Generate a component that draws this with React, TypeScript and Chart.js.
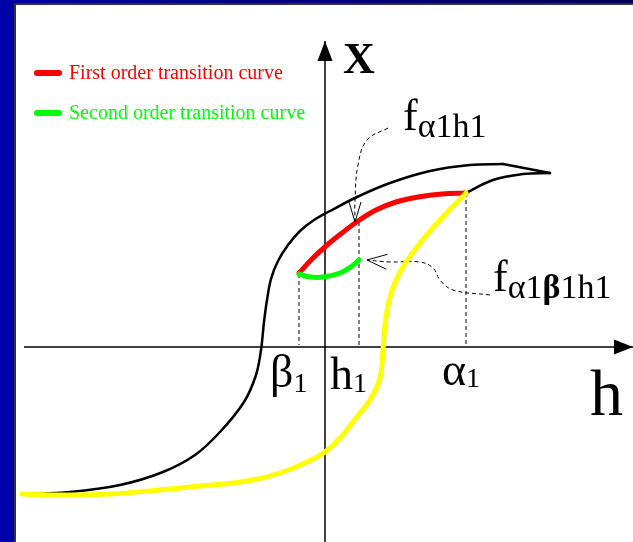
import { useEffect, useRef } from "react";
import { Chart, registerables } from "chart.js";

Chart.register(...registerables);

type Pt = [number, number]; // [h, x]

// Hysteresis loop: ascending (upper) branch, its tip and the returning arc
const upperBranch: Pt[] = [
  [-3.03, -1.47], [-2.55, -1.45], [-2.05, -1.38], [-1.62, -1.25], [-1.3, -1.08],
  [-1.05, -0.85], [-0.81, -0.55], [-0.69, -0.28], [-0.64, -0.03], [-0.61, 0.25],
  [-0.58, 0.47], [-0.54, 0.68], [-0.47, 0.86], [-0.37, 1.02], [-0.25, 1.16],
  [-0.11, 1.27], [0.05, 1.36], [0.32, 1.5], [0.65, 1.64], [1.05, 1.76],
  [1.45, 1.82], [1.78, 1.83],
];
const loopTip: Pt[] = [[1.78, 1.83], [2.25, 1.74]];
const returnArc: Pt[] = [[2.25, 1.74], [1.98, 1.73], [1.68, 1.67], [1.41, 1.54]];

// Descending curve from alpha1 back to negative saturation
const descending: Pt[] = [
  [1.41, 1.54], [1.15, 1.27], [0.92, 1.0], [0.75, 0.75], [0.65, 0.5],
  [0.6, 0.22], [0.58, -0.03], [0.55, -0.31], [0.45, -0.53], [0.31, -0.71],
  [0.16, -0.9], [0, -1.05], [-0.2, -1.16], [-0.42, -1.25], [-0.67, -1.32],
  [-0.92, -1.36], [-1.25, -1.39], [-1.65, -1.43], [-2.15, -1.47], [-2.6, -1.48],
  [-3.03, -1.47],
];

// First order transition curve (beta1 -> alpha1)
const firstOrder: Pt[] = [
  [-0.26, 0.74], [-0.13, 0.88], [0.01, 1.01], [0.17, 1.14], [0.33, 1.26],
  [0.51, 1.37], [0.71, 1.45], [0.93, 1.5], [1.17, 1.53], [1.41, 1.54],
];

// Second order transition curve (beta1 -> h1)
const secondOrder: Pt[] = [
  [-0.26, 0.73], [-0.15, 0.7], [-0.02, 0.7], [0.15, 0.74], [0.27, 0.81], [0.34, 0.87],
];

// Field values marked on the h axis
const beta1 = -0.26;
const h1 = 0.34;
const alpha1 = 1.41;
const guideTops: Pt[] = [[beta1, 0.73], [h1, 1.25], [alpha1, 1.54]];
const guideBottom = 0.02;

// Pointer curves from the f labels to their curves
const pointerFirst: Pt[] = [[0.63, 2.19], [0.42, 2.07], [0.33, 1.82], [0.3, 1.47], [0.3, 1.25]];
const pointerSecond: Pt[] = [
  [1.65, 0.52], [1.28, 0.57], [1.15, 0.67], [1.08, 0.79], [0.95, 0.85], [0.65, 0.85], [0.42, 0.87],
];

// Axes extents
const hAxis: Pt[] = [[-3.01, 0], [3.08, 0]];
const xAxis: Pt[] = [[0, -1.95], [0, 3.06]];

const SERIF = '"Liberation Serif", "Times New Roman", serif';

type Run = { t: string; size: number; bold?: boolean; dy?: number };
type Label = { at: Pt; runs: Run[] };

const labels: Label[] = [
  { at: [0.18, 2.74], runs: [{ t: "X", size: 44, bold: true }] },
  { at: [2.65, -0.68], runs: [{ t: "h", size: 66 }] },
  { at: [-0.55, -0.4], runs: [{ t: "β", size: 46 }, { t: "1", size: 28, dy: 5 }] },
  { at: [0.05, -0.42], runs: [{ t: "h", size: 46 }, { t: "1", size: 28, dy: 3 }] },
  { at: [1.17, -0.38], runs: [{ t: "α", size: 46 }, { t: "1", size: 28, dy: 2 }] },
  { at: [0.78, 2.17], runs: [{ t: "f", size: 44 }, { t: "α1h1", size: 34, dy: 7 }] },
  {
    at: [1.68, 0.56],
    runs: [
      { t: "f", size: 44 },
      { t: "α1", size: 34, dy: 7 },
      { t: "β", size: 34, bold: true, dy: 7 },
      { t: "1h1", size: 34, dy: 7 },
    ],
  },
];

const legendItems = ["First order transition curve", "Second order transition curve"];

const toXY = (pts: Pt[]) => pts.map(([h, x]) => ({ x: h, y: x }));

const line = (label: string, pts: Pt[], color: string, width: number, order: number, extra: object = {}) => ({
  label,
  data: toXY(pts),
  showLine: true,
  borderColor: color,
  backgroundColor: color,
  borderWidth: width,
  pointRadius: 0,
  tension: 0.4,
  borderCapStyle: "round" as const,
  borderJoinStyle: "round" as const,
  order,
  ...extra,
});

const diagramPlugin = {
  id: "diagram",
  beforeDraw(chart: any) {
    const { ctx, width, height } = chart;
    ctx.save();
    ctx.fillStyle = "#ffffff";
    ctx.fillRect(0, 0, width, height);
    const g = ctx.createLinearGradient(0, 0, width, 0);
    g.addColorStop(0, "#0000a8");
    g.addColorStop(1, "#000050");
    ctx.fillStyle = g;
    ctx.fillRect(0, 0, width, 3);
    ctx.fillStyle = "#0000a8";
    ctx.fillRect(0, 0, 14, height);
    ctx.fillStyle = "#333";
    ctx.fillRect(14, 3, width - 14, 2);
    ctx.fillRect(14, 3, 2, height - 3);
    ctx.restore();
  },
  afterDatasetsDraw(chart: any) {
    const { ctx } = chart;
    const sx = chart.scales.x;
    const sy = chart.scales.y;
    const P = ([h, x]: Pt) => [sx.getPixelForValue(h), sy.getPixelForValue(x)];
    ctx.save();

    // axis arrowheads (filled) and pointer arrowheads (open)
    const arrow = (tip: Pt, from: Pt, len: number, half: number, fill: boolean) => {
      const [tx, ty] = P(tip);
      const [fx, fy] = P(from);
      const a = Math.atan2(ty - fy, tx - fx);
      const bx = tx - Math.cos(a) * len;
      const by = ty - Math.sin(a) * len;
      const nx = -Math.sin(a) * half;
      const ny = Math.cos(a) * half;
      ctx.beginPath();
      if (fill) {
        ctx.moveTo(tx, ty);
        ctx.lineTo(bx + nx, by + ny);
        ctx.lineTo(bx - nx, by - ny);
        ctx.closePath();
        ctx.fillStyle = "#000";
        ctx.fill();
      } else {
        ctx.moveTo(bx + nx, by + ny);
        ctx.lineTo(tx, ty);
        ctx.lineTo(bx - nx, by - ny);
        ctx.strokeStyle = "#000";
        ctx.lineWidth = 1;
        ctx.stroke();
      }
    };
    arrow(xAxis[1], xAxis[0], 20, 7.5, true);
    arrow(hAxis[1], hAxis[0], 19, 7.5, true);
    arrow(pointerFirst[pointerFirst.length - 1], pointerFirst[pointerFirst.length - 2], 20, 6, false);
    arrow(pointerSecond[pointerSecond.length - 1], pointerSecond[pointerSecond.length - 2], 20, 7.5, false);

    // labels
    ctx.fillStyle = "#000";
    ctx.textBaseline = "alphabetic";
    ctx.textAlign = "left";
    for (const lab of labels) {
      let [cx, cy] = P(lab.at);
      for (const r of lab.runs) {
        ctx.font = `${r.bold ? "bold " : ""}${r.size}px ${SERIF}`;
        ctx.fillText(r.t, cx, cy + (r.dy || 0));
        cx += ctx.measureText(r.t).width;
      }
    }

    // legend
    const colors = ["#ff0000", "#00ff00"];
    legendItems.forEach((text, i) => {
      const y = 73 + i * 40;
      ctx.strokeStyle = colors[i];
      ctx.lineWidth = 6;
      ctx.lineCap = "round";
      ctx.beginPath();
      ctx.moveTo(37, y);
      ctx.lineTo(59, y);
      ctx.stroke();
      ctx.fillStyle = colors[i];
      ctx.font = `20px ${SERIF}`;
      ctx.fillText(text, 69, y + 6);
    });
    ctx.restore();
  },
};

export default function App() {
  const ref = useRef<HTMLCanvasElement | null>(null);

  useEffect(() => {
    if (!ref.current) return;
    const dash = { borderDash: [4, 3], borderCapStyle: "butt" as const };
    const datasets: any[] = [
      line("h axis", hAxis, "#000", 1.5, 9, { tension: 0, borderCapStyle: "butt" }),
      line("x axis", xAxis, "#000", 1.5, 9, { tension: 0, borderCapStyle: "butt" }),
      ...guideTops.map(([h, x]) =>
        line("guide", [[h, x], [h, guideBottom]], "#000", 1, 8, { tension: 0, ...dash })
      ),
      line("pointer 1", pointerFirst, "#000", 1, 8, dash),
      line("pointer 2", pointerSecond, "#000", 1, 8, dash),
      line("upper branch", upperBranch, "#000", 2.5, 5, { tension: 0.35 }),
      line("tip", loopTip, "#000", 2.5, 5, { tension: 0 }),
      line("return arc", returnArc, "#000", 2.5, 5),
      line("Second order transition curve", secondOrder, "#00ff00", 5, 3),
      line("First order transition curve", firstOrder, "#ff0000", 5, 3),
      line("descending", descending, "#ffff00", 5, 1, { tension: 0.35 }),
    ];

    const chart = new Chart(ref.current, {
      type: "scatter",
      data: { datasets },
      options: {
        responsive: false,
        animation: false,
        devicePixelRatio: 1,
        layout: { padding: 0, autoPadding: false } as any,
        plugins: { legend: { display: false }, tooltip: { enabled: false } },
        events: [],
        scales: {
          x: { type: "linear", min: -3.25, max: 3.08, display: false },
          y: { type: "linear", min: -1.95, max: 3.47, display: false },
        },
      },
      plugins: [diagramPlugin],
    });
    return () => chart.destroy();
  }, []);

  return (
    <div style={{ position: "fixed", left: 0, top: 0, width: 633, height: 542 }}>
      <canvas ref={ref} width={633} height={542} style={{ display: "block" }} />
    </div>
  );
}
